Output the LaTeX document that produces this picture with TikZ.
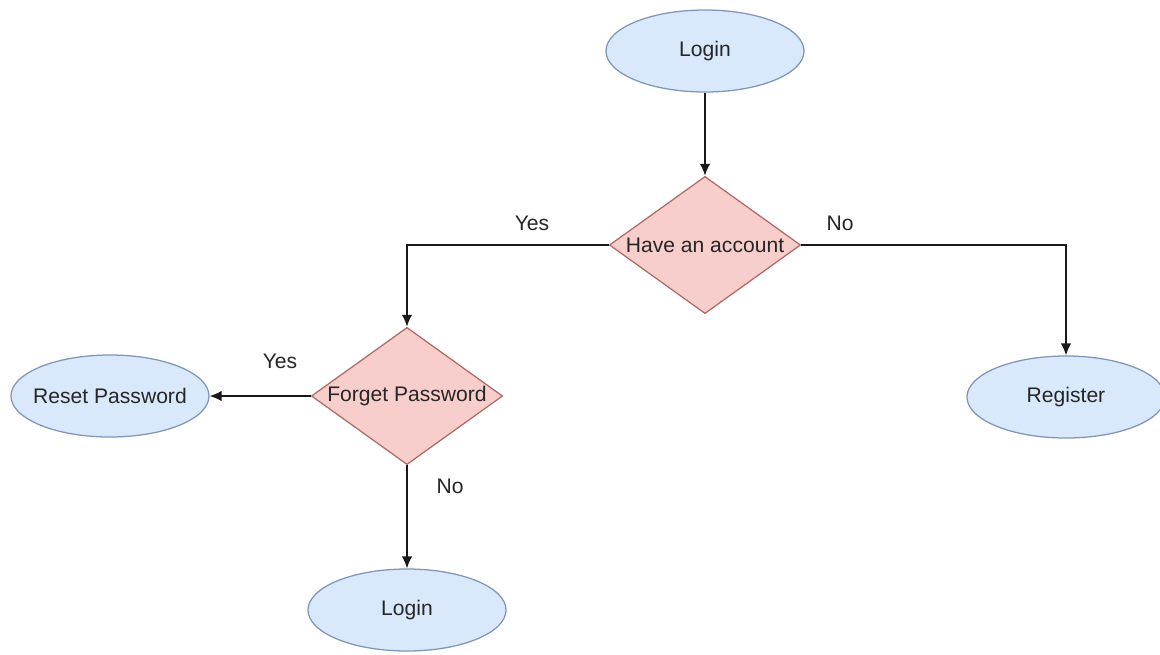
\documentclass[tikz,border=0pt]{standalone}
\usepackage{fontspec}
\setmainfont{Liberation Sans}
\usepackage{xcolor}
\usetikzlibrary{shapes.geometric,arrows.meta}
\definecolor{termfill}{HTML}{DAE8FC}
\definecolor{termline}{HTML}{7F96B8}
\definecolor{decfill}{HTML}{F8CECC}
\definecolor{decline}{HTML}{B06A66}
\begin{document}
\begin{tikzpicture}[x=0.025cm,y=-0.025cm,font=\fontsize{15}{18}\selectfont,>={Latex[length=8.5pt,width=7.5pt]}]
\tikzstyle{term}=[ellipse,draw=termline,fill=termfill,line width=0.9pt,minimum width=4.95cm,minimum height=2.05cm,inner sep=0pt,label={[text=black!85]center:#1}]
\tikzstyle{dec}=[diamond,draw=decline,fill=decfill,line width=0.9pt,minimum width=4.78cm,minimum height=3.43cm,inner sep=0pt,label={[text=black!85]center:#1}]
\tikzstyle{lbl}=[text=black!85,inner sep=1pt]
\tikzstyle{flow}=[->,line width=1.2pt,draw=black!90]
\useasboundingbox (0,0) rectangle (1160,654);
\node[term=Login] (login) at (705,51) {};
\node[dec=Have an account] (acc) at (705,245) {};
\node[dec=Forget Password] (forget) at (407,396) {};
\node[term=Reset Password] (reset) at (110,396) {};
\node[term=Register] (reg) at (1066,397) {};
\node[term=Login] (relogin) at (407,610) {};
\draw[flow] (login) -- (acc);
\draw[flow] (acc.west) -| (forget.north);
\draw[flow] (acc.east) -| (reg.north);
\draw[flow] (forget.west) -- (reset.east);
\draw[flow] (forget.south) -- (relogin.north);
\node[lbl] (yes1) at (532,223) {Yes};
\node[lbl] (no1) at (840,223) {No};
\node[lbl] (yes2) at (280,361) {Yes};
\node[lbl] (no2) at (450,486) {No};
\end{tikzpicture}
\end{document}
